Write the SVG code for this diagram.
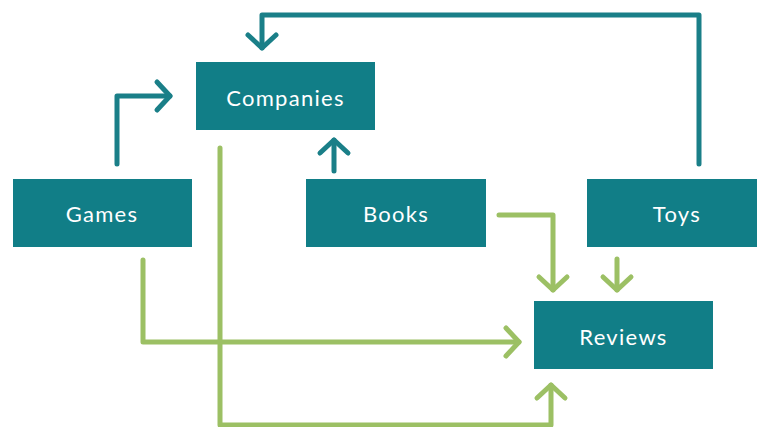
<svg xmlns="http://www.w3.org/2000/svg" width="757" height="427" viewBox="0 0 757 427">
  <style>
    .box { fill: #117E87; }
    .label { font-family: Lato, "Open Sans", sans-serif; font-size: 22px; letter-spacing: 1.3px; fill: #FFFFFF; text-anchor: middle; }
    .link { fill: none; stroke-width: 5; stroke-linecap: round; stroke-linejoin: round; }
    .teal { stroke: #1A7F88; }
    .green { stroke: #9CC064; }
  </style>
  <defs>
    <marker id="head-teal" markerUnits="userSpaceOnUse" viewBox="-16 -17 20 34" refX="0" refY="0" markerWidth="20" markerHeight="34" orient="auto" overflow="visible">
      <path d="M-13,-14 L0,0 L-13,14" fill="none" stroke="#1A7F88" stroke-width="5" stroke-linecap="round" stroke-linejoin="round"/>
    </marker>
    <marker id="head-green" markerUnits="userSpaceOnUse" viewBox="-16 -17 20 34" refX="0" refY="0" markerWidth="20" markerHeight="34" orient="auto" overflow="visible">
      <path d="M-13,-14 L0,0 L-13,14" fill="none" stroke="#9CC064" stroke-width="5" stroke-linecap="round" stroke-linejoin="round"/>
    </marker>
  </defs>

  <g id="connectors">
    <!-- Games -> Companies -->
    <polyline class="link teal" points="117,164 117,96 170,96" marker-end="url(#head-teal)"/>
    <!-- Toys -> Companies -->
    <polyline class="link teal" points="699,164 699,15 262,15 262,48" marker-end="url(#head-teal)"/>
    <!-- Books -> Companies -->
    <polyline class="link teal" points="334,171 334,140" marker-end="url(#head-teal)"/>
    <!-- Games -> Reviews -->
    <polyline class="link green" points="143,260 143,342 519,342" marker-end="url(#head-green)"/>
    <!-- Companies -> Reviews -->
    <polyline class="link green" points="220,148 220,425 551,425 551,385" marker-end="url(#head-green)"/>
    <!-- Books -> Reviews -->
    <polyline class="link green" points="499,215 553,215 553,290" marker-end="url(#head-green)"/>
    <!-- Toys -> Reviews -->
    <polyline class="link green" points="617,259 617,290" marker-end="url(#head-green)"/>
  </g>

  <g id="companies">
    <rect class="box" x="196" y="62" width="179" height="68"/>
    <text class="label" x="285.5" y="106">Companies</text>
  </g>
  <g id="games">
    <rect class="box" x="13" y="179" width="179" height="68"/>
    <text class="label" x="102" y="222">Games</text>
  </g>
  <g id="books">
    <rect class="box" x="306" y="179" width="180" height="68"/>
    <text class="label" x="396" y="222">Books</text>
  </g>
  <g id="toys">
    <rect class="box" x="587" y="179" width="170" height="68"/>
    <text class="label" x="677" y="222">Toys</text>
  </g>
  <g id="reviews">
    <rect class="box" x="534" y="301" width="179" height="68"/>
    <text class="label" x="623.5" y="345">Reviews</text>
  </g>
</svg>
